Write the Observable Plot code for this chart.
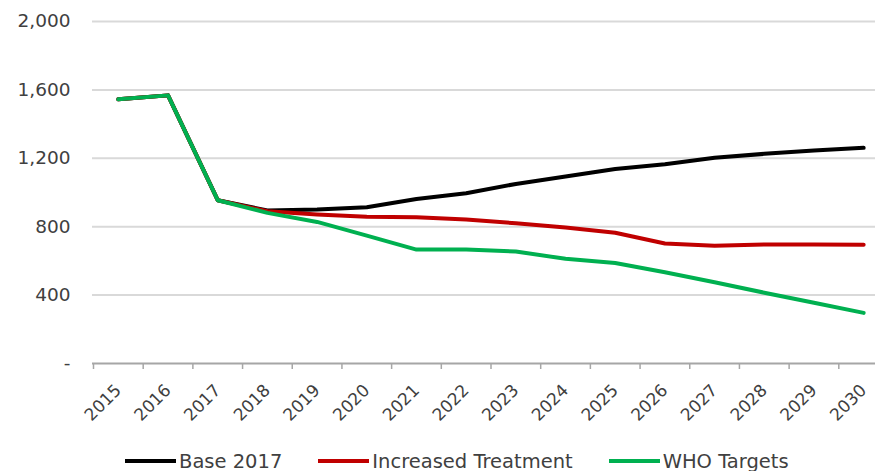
<!DOCTYPE html>
<html>
<head>
<meta charset="utf-8">
<script src="https://cdn.jsdelivr.net/npm/d3@7"></script>
<script src="https://cdn.jsdelivr.net/npm/@observablehq/plot@0.6"></script>
<style>
  html, body { margin: 0; padding: 0; background: #fff; overflow: hidden; }
  body { width: 875px; font-family: "DejaVu Sans", sans-serif; }
  #legend { display: flex; align-items: center; padding: 5px 0 0 125px; height: 20px;
            font-size: 19.5px; color: #404040; white-space: nowrap; }
  .item { display: flex; align-items: center; margin-right: 36px; }
  .swatch { width: 51px; height: 4px; margin-right: 3px; }
</style>
</head>
<body>
<div id="chart"></div>
<div id="legend"></div>
<script>
// Years on the category axis
const years = [2015, 2016, 2017, 2018, 2019, 2020, 2021, 2022, 2023, 2024, 2025, 2026, 2027, 2028, 2029, 2030];

// Scenario projections
const base2017 = [1545, 1568, 955, 895, 900, 914, 962, 996, 1050, 1094, 1138, 1165, 1203, 1226, 1245, 1261];
const increasedTreatment = [1545, 1568, 955, 890, 872, 858, 855, 842, 820, 795, 765, 702, 688, 696, 696, 694];
const whoTargets = [1545, 1568, 955, 881, 828, 748, 666, 666, 655, 612, 588, 534, 475, 414, 355, 296];

const seriesNames = ["Base 2017", "Increased Treatment", "WHO Targets"];
const seriesColors = ["#000000", "#c00000", "#00b050"];
const yTicks = [0, 400, 800, 1200, 1600, 2000];

const rows = [];
[base2017, increasedTreatment, whoTargets].forEach((vals, i) => {
  vals.forEach((v, j) => rows.push({year: years[j], value: v, series: seriesNames[i]}));
});

// Category boundaries carry the axis tick marks; labels sit mid-category
const boundaries = years.map(y => y - 0.5).concat([years[years.length - 1] + 0.5]);

const chart = Plot.plot({
  width: 875,
  height: 446,
  marginLeft: 92,
  marginRight: 0,
  marginTop: 21,
  marginBottom: 83,
  style: {fontFamily: "DejaVu Sans, sans-serif", background: "#fff"},
  x: {domain: [2014.5, 2030.5], range: [93, 888], label: null},
  y: {domain: [0, 2000], label: null},
  color: {domain: seriesNames, range: seriesColors},
  marks: [
    Plot.ruleY(yTicks.filter(d => d > 0), {stroke: "#d9d9d9", strokeWidth: 2}),
    Plot.ruleY([0], {stroke: "#a6a6a6", strokeWidth: 2}),
    Plot.axisX({ticks: boundaries, tickFormat: () => "", tickSize: 6, stroke: "#a6a6a6",
                strokeWidth: 1.5, strokeOpacity: 1, label: null}),
    Plot.axisX({ticks: years, tickFormat: d => String(d), tickSize: 0, tickPadding: 14, tickRotate: -45,
                fontSize: 17, fill: "#404040", dx: 0, dy: 10, label: null}),
    Plot.axisY({ticks: yTicks, tickSize: 0, tickPadding: 22, fontSize: 18.5, fill: "#404040", label: null,
                tickFormat: d => d === 0 ? "-" : d3.format(",")(d)}),
    Plot.line(rows, {x: "year", y: "value", z: "series", stroke: "series", strokeWidth: 4,
                     strokeLinejoin: "round", strokeLinecap: "round"})
  ]
});
document.getElementById("chart").appendChild(chart);

const legend = document.getElementById("legend");
seriesNames.forEach((name, i) => {
  const item = document.createElement("div");
  item.className = "item";
  const sw = document.createElement("span");
  sw.className = "swatch";
  sw.style.background = seriesColors[i];
  const label = document.createElement("span");
  label.textContent = name;
  item.appendChild(sw);
  item.appendChild(label);
  legend.appendChild(item);
});
</script>
</body>
</html>
